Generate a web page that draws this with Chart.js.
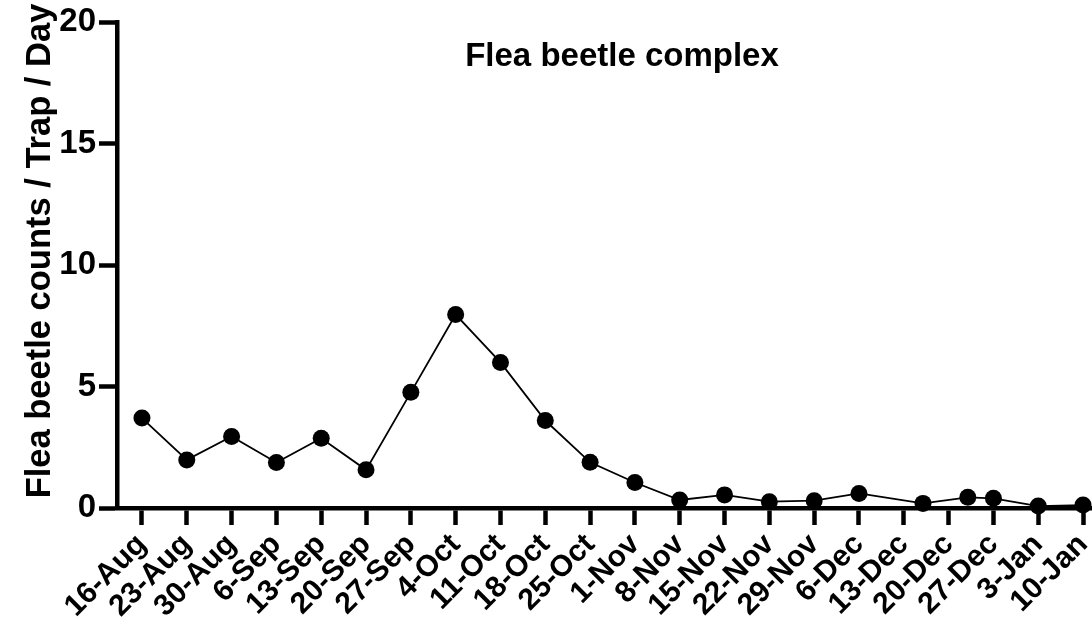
<!DOCTYPE html>
<html>
<head>
<meta charset="utf-8">
<title>Flea beetle complex</title>
<script src="https://cdn.jsdelivr.net/npm/chart.js@4.4.1/dist/chart.umd.min.js"></script>
<style>
  html, body { margin: 0; padding: 0; background: #fff; overflow: hidden; }
  #wrap { position: relative; width: 1092px; height: 632px; }
</style>
</head>
<body>
<div id="wrap"><canvas id="chart"></canvas></div>
<script>
// sampling dates, as days counted from 16-Aug
const sampleDays = [0, 7, 14, 21, 28, 35, 42, 49, 56, 63, 70, 77, 84, 91, 98, 105, 112, 122, 129, 133, 140, 147]
// flea beetle counts per trap per day
const beetleCounts = [3.70, 1.98, 2.94, 1.87, 2.87, 1.57, 4.76, 7.96, 5.99, 3.60, 1.88, 1.05, 0.33, 0.54, 0.26, 0.30, 0.60, 0.19, 0.44, 0.40, 0.08, 0.12]

// weekly x ticks
const tickDays = [0, 7, 14, 21, 28, 35, 42, 49, 56, 63, 70, 77, 84, 91, 98, 105, 112, 119, 126, 133, 140, 147]
const tickLabels = ["16-Aug", "23-Aug", "30-Aug", "6-Sep", "13-Sep", "20-Sep", "27-Sep", "4-Oct", "11-Oct", "18-Oct", "25-Oct",
  "1-Nov", "8-Nov", "15-Nov", "22-Nov", "29-Nov", "6-Dec", "13-Dec", "20-Dec", "27-Dec", "3-Jan", "10-Jan"]
const yTicks = [0, 5, 10, 15, 20]

const chartTitle = "Flea beetle complex"
const yTitle = "Flea beetle counts / Trap / Day"

const FONT = "'Liberation Sans', Arial, Helvetica, sans-serif"

// titles sit inside / beside the plot, so draw them by hand
const titlesPlugin = {
  id: "titles",
  afterDraw(chart) {
    const { ctx, chartArea } = chart
    ctx.save()
    ctx.fillStyle = "#000"
    ctx.textAlign = "center"
    ctx.textBaseline = "middle"
    ctx.font = `bold 33px ${FONT}`
    ctx.fillText(chartTitle, 622, chartArea.top + 35)

    ctx.translate(40, chartArea.top + 229)
    ctx.rotate(-Math.PI / 2)
    ctx.font = `bold 34.5px ${FONT}`
    ctx.fillText(yTitle, 0, 0)
    ctx.restore()
  },
}

const ctx = document.getElementById("chart").getContext("2d")

new Chart(ctx, {
  type: "line",
  data: {
    datasets: [
      {
        data: sampleDays.map((d, i) => ({ x: d, y: beetleCounts[i] })),
        borderColor: "#000",
        borderWidth: 1.8,
        pointRadius: 8.5,
        pointHoverRadius: 8.5,
        pointBackgroundColor: "#000",
        pointBorderWidth: 0,
        tension: 0,
        clip: false,
      },
    ],
  },
  options: {
    responsive: true,
    maintainAspectRatio: false,
    animation: false,
    events: [],
    // no extra room for the big markers: the x axis runs to the right edge
    layout: { autoPadding: false, padding: { top: 22, right: 0, bottom: 0, left: 0 } },
    plugins: {
      legend: { display: false },
      tooltip: { enabled: false },
    },
    scales: {
      x: {
        type: "linear",
        min: -3.9,
        max: 148.4,
        afterBuildTicks: (scale) => {
          scale.ticks = tickDays.map((v) => ({ value: v }))
        },
        afterFit: (scale) => {
          scale.height = 124
          scale.paddingLeft = 0
          scale.paddingRight = 0
        },
        ticks: {
          autoSkip: false,
          minRotation: 45,
          maxRotation: 45,
          padding: 2,
          color: "#000",
          font: { family: FONT, size: 30, weight: "bold" },
          callback: (value, index) => tickLabels[index],
        },
        grid: { drawOnChartArea: false, tickLength: 17, tickWidth: 4.5, color: "#000" },
        border: { width: 4.5, color: "#000" },
      },
      y: {
        min: 0,
        max: 20,
        afterBuildTicks: (scale) => {
          scale.ticks = yTicks.map((v) => ({ value: v }))
        },
        afterFit: (scale) => {
          scale.width = 117
          scale.paddingTop = 0
          scale.paddingBottom = 0
        },
        ticks: {
          padding: 3,
          color: "#000",
          font: { family: FONT, size: 33, weight: "bold" },
        },
        grid: { drawOnChartArea: false, tickLength: 18, tickWidth: 4.5, color: "#000" },
        border: { width: 4.5, color: "#000" },
      },
    },
  },
  plugins: [titlesPlugin],
})
</script>
</body>
</html>
